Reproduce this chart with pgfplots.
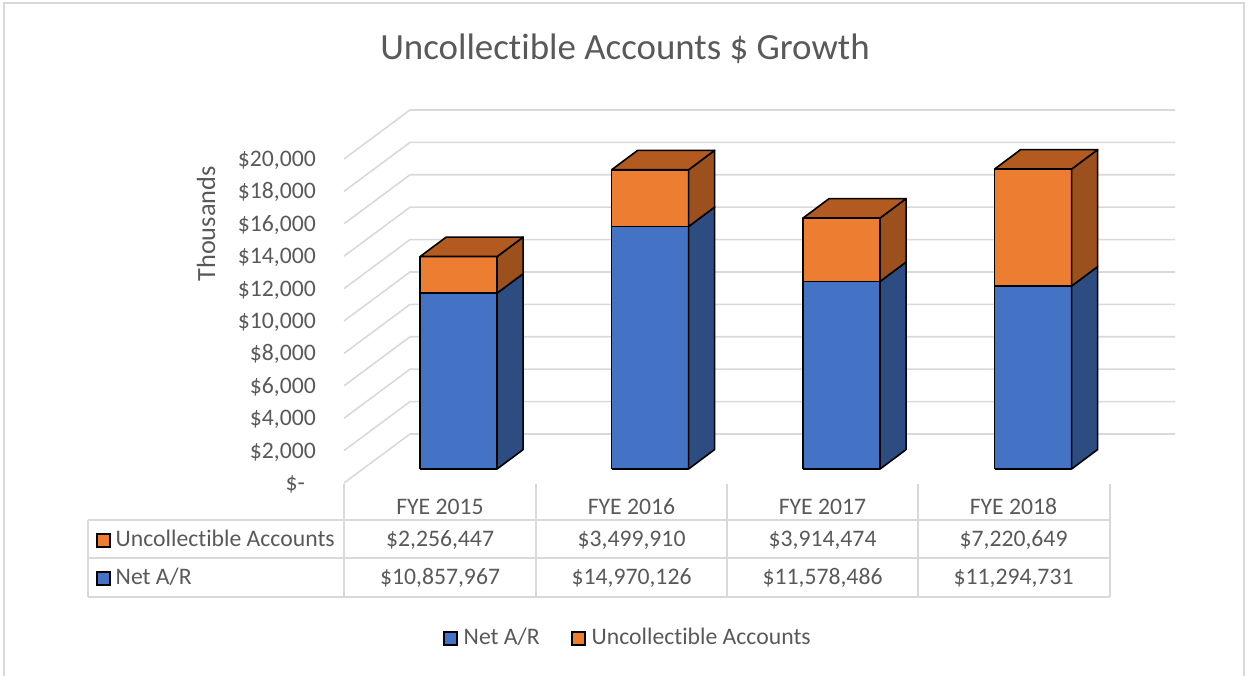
\documentclass[border=0pt]{standalone}
\usepackage{pgfplots}
\pgfplotsset{compat=1.18}
\usepackage{fontspec}
\setmainfont{Carlito}[Ligatures={NoCommon,NoRequired,NoContextual}]
\definecolor{txt}{HTML}{595959}
\definecolor{gridc}{HTML}{D9D9D9}
\definecolor{netF}{HTML}{4472C4}
\definecolor{netS}{HTML}{2D4C82}
\definecolor{uncF}{HTML}{ED7D31}
\definecolor{uncS}{HTML}{9C501D}
\definecolor{uncT}{HTML}{B35A21}
\tikzset{edge/.style={draw=black,line width=1.6pt,line join=round}}
\newcommand\tk{\fontsize{23.7}{28}\selectfont}
% \cube{index}{net A/R (thousands)}{uncollectible (thousands)}
\newcommand\cube[3]{%
 \edef\cL{\fpeval{#1-0.201}}\edef\cR{\fpeval{#1+0.201}}%
 \edef\cLd{\fpeval{#1-0.201+0.136}}\edef\cRd{\fpeval{#1+0.201+0.136}}%
 \edef\cN{\fpeval{#2}}\edef\cT{\fpeval{#2+#3}}%
 \edef\cNd{\fpeval{#2+1200}}\edef\cTd{\fpeval{#2+#3+1200}}%
 \edef\doit{%
  \noexpand\addplot[fill=netF,edge] coordinates {(\cL,0) (\cR,0) (\cR,\cN) (\cL,\cN) (\cL,0)};
  \noexpand\addplot[fill=netS,edge] coordinates {(\cR,0) (\cRd,1200) (\cRd,\cNd) (\cR,\cN) (\cR,0)};
  \noexpand\addplot[fill=uncF,edge] coordinates {(\cL,\cN) (\cR,\cN) (\cR,\cT) (\cL,\cT) (\cL,\cN)};
  \noexpand\addplot[fill=uncS,edge] coordinates {(\cR,\cN) (\cRd,\cNd) (\cRd,\cTd) (\cR,\cT) (\cR,\cN)};
  \noexpand\addplot[fill=uncT,edge] coordinates {(\cL,\cT) (\cR,\cT) (\cRd,\cTd) (\cLd,\cTd) (\cL,\cT)};
 }\doit}
\begin{document}
\begin{tikzpicture}
\useasboundingbox (0,0) rectangle (1249pt,675pt);
\begin{scope}[x=1pt,y=-1pt,yshift=675pt]
 % chart border
 \draw[gridc,line width=1.5pt] (4,676) -- (4,3) -- (1244,3) -- (1244,676);
 % title
 \node[anchor=base,text=txt,font=\fontsize{36.9}{44}\selectfont,inner sep=0pt] at (625,60) {Uncollectible Accounts \$ Growth};
 % walls
 \foreach \k in {0,...,10}{
   \pgfmathsetmacro\yy{483-32.4*\k}
   \pgfmathsetmacro\yb{434-32.4*\k}
   \draw[gridc,line width=1.6pt] (344,\yy) -- (410,\yb) -- (1175,\yb);
 }
 % tick labels
 \foreach \k/\lab in {1/{2,000},2/{4,000},3/{6,000},4/{8,000},5/{10,000},6/{12,000},7/{14,000},8/{16,000},9/{18,000},10/{20,000}}{
   \pgfmathsetmacro\yy{483-32.4*\k+7.5}
   \node[anchor=base east,text=txt,font=\tk,inner sep=0pt] at (316,\yy) {\$\lab};
 }
 \node[anchor=base east,text=txt,font=\tk,inner sep=0pt] at (305,490.5) {\$-};
 \node[rotate=90,anchor=base,text=txt,font=\fontsize{26.3}{30}\selectfont,inner sep=0pt] at (215,224) {Thousands};
 % data table
 \begin{scope}[gridc,line width=1.8pt]
  \draw (88,520) -- (1110,520);
  \draw (88,558) -- (1110,558);
  \draw (88,597) -- (1110,597);
  \draw (88,520) -- (88,597);
  \foreach \xx in {344,536,727,918,1110} \draw (\xx,484) -- (\xx,597);
 \end{scope}
 \foreach \cx/\h/\u/\n in {440/2015/{2,256,447}/{10,857,967},631.5/2016/{3,499,910}/{14,970,126},822.5/2017/{3,914,474}/{11,578,486},1013.5/2018/{7,220,649}/{11,294,731}}{
   \node[anchor=base,text=txt,font=\tk,inner sep=0pt] at (\cx,514) {FYE \h};
   \node[anchor=base,text=txt,font=\tk,inner sep=0pt] at (\cx,546.5) {\$\u};
   \node[anchor=base,text=txt,font=\tk,inner sep=0pt] at (\cx,584.5) {\$\n};
 }
 \draw[fill=uncF,draw=black,line width=2pt] (96.5,533.5) rectangle (109.5,546.5);
 \draw[fill=netF,draw=black,line width=2pt] (96.5,571.5) rectangle (109.5,584.5);
 \node[anchor=base west,text=txt,font=\tk,inner sep=0pt] at (115.5,546.5) {Uncollectible Accounts};
 \node[anchor=base west,text=txt,font=\tk,inner sep=0pt] at (115.5,584.5) {Net A/R};
 % legend
 \draw[fill=netF,draw=black,line width=2pt] (444,631.5) rectangle (457,644.5);
 \node[anchor=base west,text=txt,font=\tk,inner sep=0pt] at (463.5,644) {Net A/R};
 \draw[fill=uncF,draw=black,line width=2pt] (572,631.5) rectangle (585,644.5);
 \node[anchor=base west,text=txt,font=\tk,inner sep=0pt] at (591.5,644) {Uncollectible Accounts};
\end{scope}
\begin{axis}[at={(0,0)},anchor=south west,scale only axis,width=1249pt,height=675pt,
  xmin=-2.3948,xmax=4.1274,ymin=-12716,ymax=28950.6,hide axis,clip=false,no markers]
 \cube{0}{10857.967}{2256.447}
 \cube{1}{14970.126}{3499.910}
 \cube{2}{11578.486}{3914.474}
 \cube{3}{11294.731}{7220.649}
\end{axis}
\end{tikzpicture}
\end{document}
